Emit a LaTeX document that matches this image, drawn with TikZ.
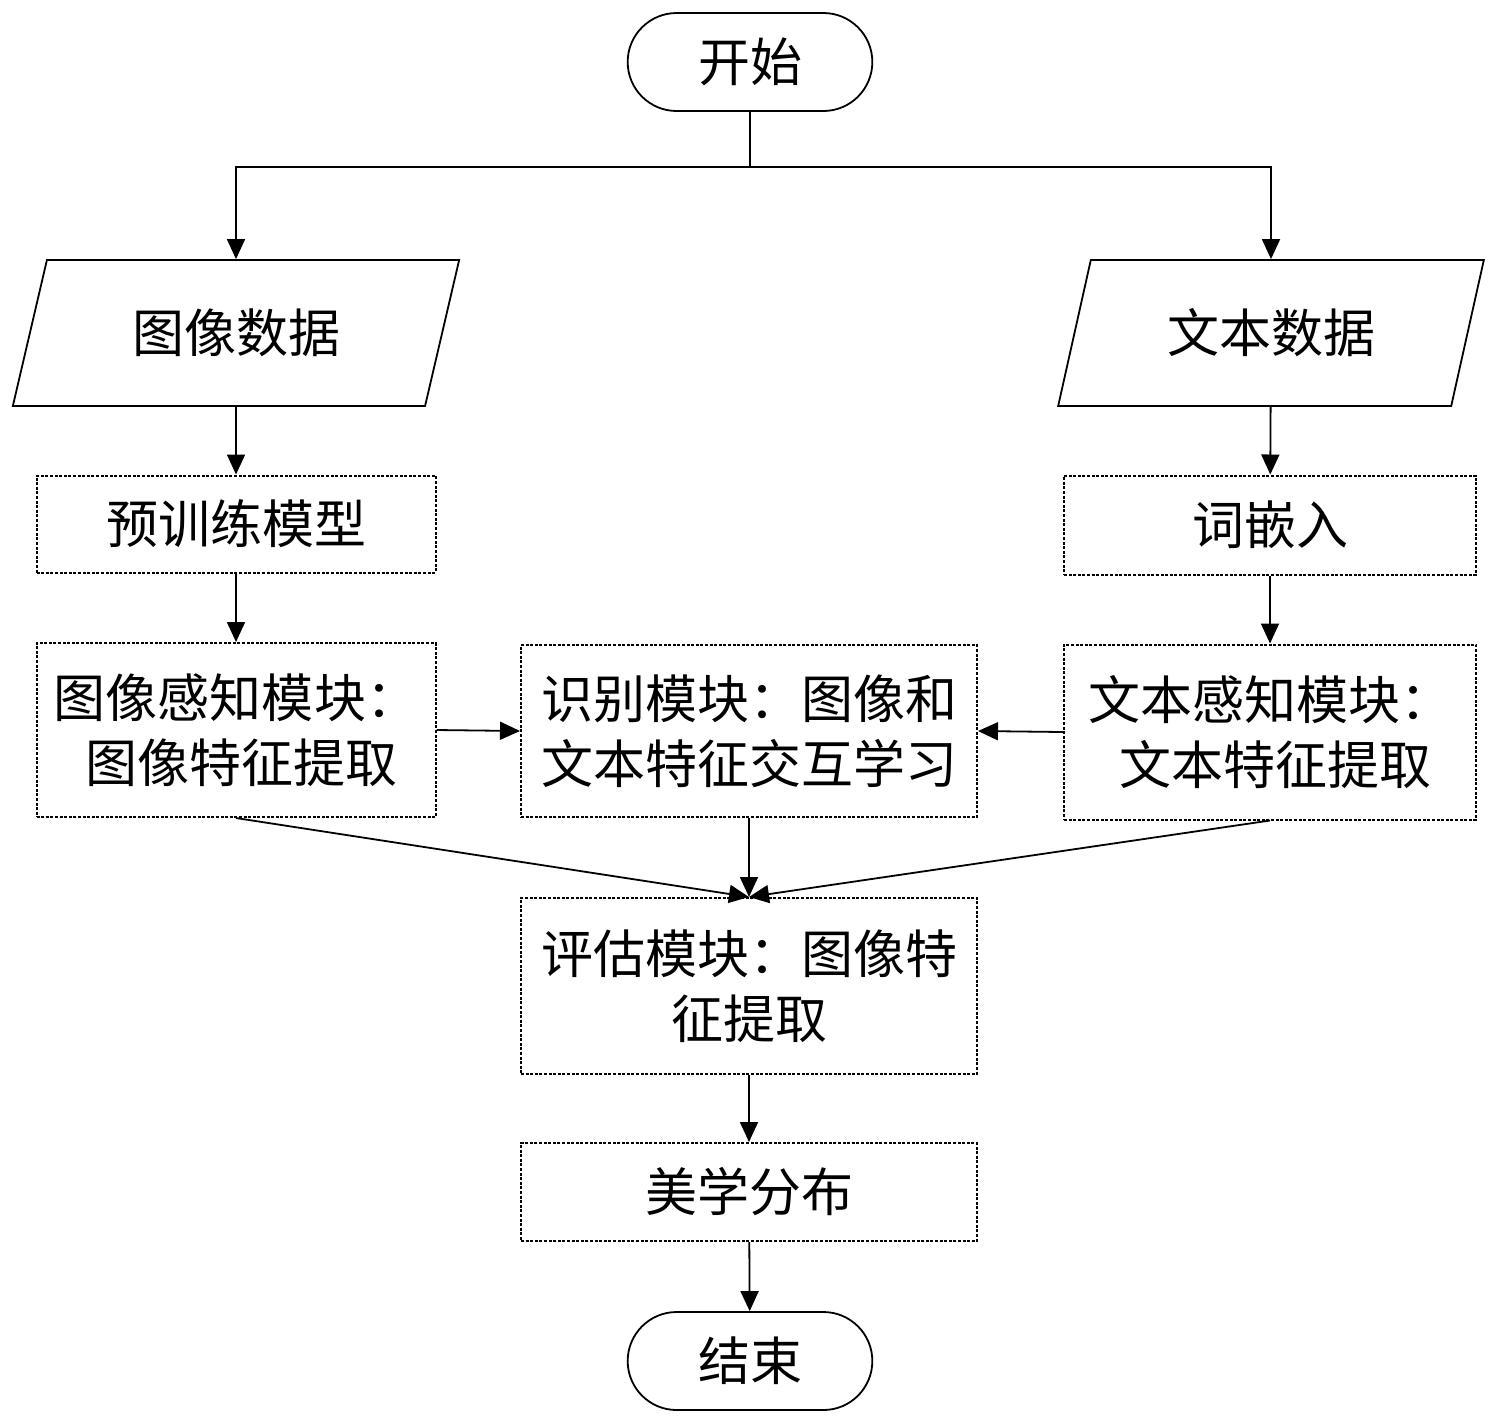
\documentclass[tikz,border=0pt]{standalone}
\usepackage{fontspec}
\setmainfont{Noto Sans CJK SC}
\usetikzlibrary{arrows.meta,shapes.geometric,shapes.misc}
\tikzset{
  box/.style={draw,line width=1pt,dash pattern=on 1.5pt off 0.8pt,minimum width=199.5pt,align=center},
  term/.style={draw,rounded rectangle,minimum width=129pt,minimum height=49pt},
  data/.style={draw,trapezium,trapezium left angle=72,trapezium right angle=108,trapezium stretches=true,minimum height=73pt},
  arr/.style={-{Triangle[length=10pt,width=9pt]}}
}
\begin{document}
\begin{tikzpicture}[x=0.5pt,y=-0.5pt,line width=0.9pt,font=\fontsize{26}{32.5}\selectfont]
  \useasboundingbox (0,0) rectangle (1499,1426);
  \node[term] (start) at (750,62) {开始};
  \coordinate (split) at (750,167);
  \node[data,minimum width=223.5pt] (imgdata) at (236,333) {图像数据};
  \node[data,minimum width=213pt] (txtdata) at (1271,333) {文本数据};
  \node[box,minimum height=48.5pt] (pretrain) at (236,524) {预训练模型};
  \node[box,minimum width=206pt,minimum height=49.5pt] (embed) at (1270,525) {词嵌入};
  \node[box,minimum height=87pt] (imgper) at (236,730) {图像感知模块：\\\ 图像特征提取};
  \node[box,minimum width=228pt,minimum height=86pt] (recog) at (749,731) {识别模块：图像和\\文本特征交互学习};
  \node[box,minimum width=206pt,minimum height=87.5pt] (txtper) at (1270,732) {文本感知模块：\\\ 文本特征提取};
  \node[box,minimum width=228pt,minimum height=88pt] (eval) at (749,986) {评估模块：图像特\\征提取};
  \node[box,minimum width=228pt,minimum height=49pt] (aes) at (749,1192) {美学分布};
  \node[term] (end) at (750,1361) {结束};
  % branches
  \draw (start) -- (split);
  \draw[arr] (split) -| (imgdata);
  \draw[arr] (split) -| (txtdata);
  \draw[arr] (imgdata) -- (pretrain);
  \draw[arr] (pretrain) -- (imgper);
  \draw[arr] (txtdata) -- (embed);
  \draw[arr] (embed) -- (txtper);
  \draw[arr] (imgper.east) -- (recog.west);
  \draw[arr] (txtper.west) -- (recog.east);
  \draw[arr] (recog) -- (eval);
  \draw[arr] (imgper.south) -- (eval.north);
  \draw[arr] (txtper.south) -- (eval.north);
  \draw[arr] (eval) -- (aes);
  \draw[arr] (aes) -- (end);
\end{tikzpicture}
\end{document}
